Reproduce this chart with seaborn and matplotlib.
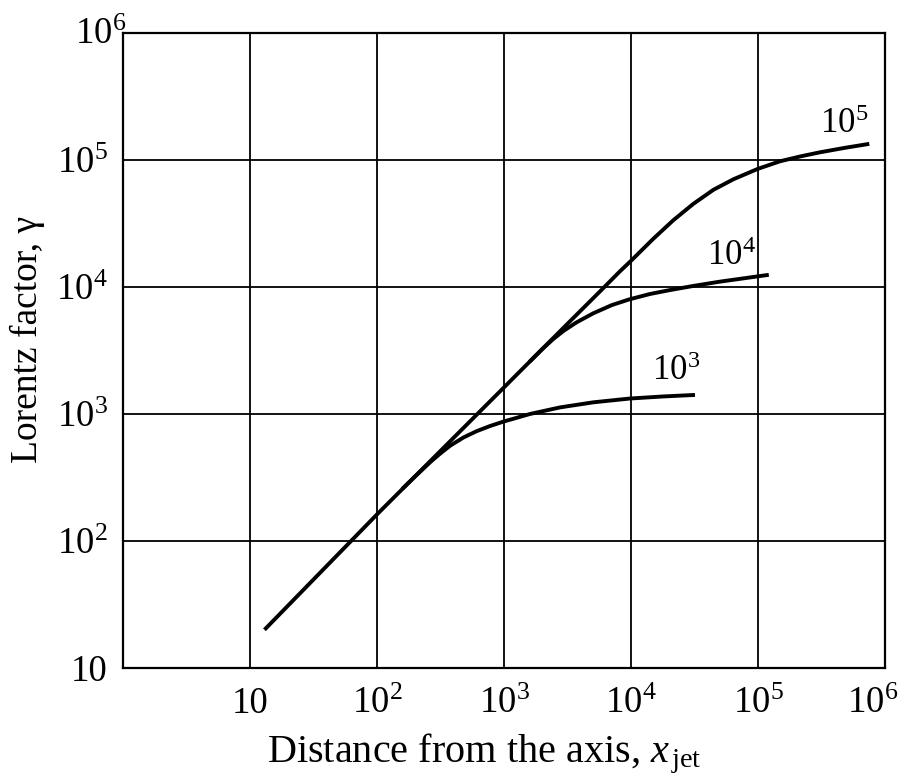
import numpy as np
import pandas as pd
import matplotlib
matplotlib.use('Agg')
import matplotlib.pyplot as plt
import matplotlib.transforms as mtransforms
import seaborn as sns

# values (distance x_jet, Lorentz factor gamma)
dist_1e5 = [13, 100, 1000, 3160, 5700, 8190, 9950, 15000, 21500, 31000,
            44500, 64000, 99500, 149000, 218000, 308000, 479000, 752000]
gam_1e5 = [20, 162, 1620, 5130, 9230, 13300, 16000, 24000, 33500, 45200,
           58200, 70500, 85100, 97700, 107000, 115000, 124500, 134000]

dist_1e4 = [1585, 2000, 2440, 2950, 3730, 5050, 7080, 9660, 14100, 20300,
            31600, 50200, 79400, 121600]
gam_1e4 = [2570, 3240, 3890, 4520, 5270, 6210, 7210, 7980, 8810, 9460,
           10230, 11020, 11750, 12470]

dist_1e3 = [158, 193, 229, 269, 316, 376, 479, 610, 776, 989, 1600, 2760,
            5050, 9820, 17800, 31900]
gam_1e3 = [257, 312, 367, 427, 490, 562, 653, 733, 804, 871, 1000, 1127,
           1236, 1324, 1374, 1413]

curve_names = ['1e5', '1e4', '1e3']
curve_labels = [r'$10^{5}$', r'$10^{4}$', r'$10^{3}$']
label_pos = [(307000, 163000), (39600, 14900), (14600, 1850)]

x_ticks = [10, 100, 1000, 1e4, 1e5, 1e6]
x_ticklabels = ['10', r'$10^{2}$', r'$10^{3}$', r'$10^{4}$', r'$10^{5}$', r'$10^{6}$']
y_ticks = [10, 100, 1000, 1e4, 1e5, 1e6]
y_ticklabels = ['10', r'$10^{2}$', r'$10^{3}$', r'$10^{4}$', r'$10^{5}$', r'$10^{6}$']

df = pd.concat([
    pd.DataFrame({'x': dist_1e5, 'g': gam_1e5, 'curve': '1e5'}),
    pd.DataFrame({'x': dist_1e4, 'g': gam_1e4, 'curve': '1e4'}),
    pd.DataFrame({'x': dist_1e3, 'g': gam_1e3, 'curve': '1e3'}),
])

sns.set_theme(style='white')
plt.rcParams['font.family'] = ['Liberation Serif', 'DejaVu Serif']
plt.rcParams['mathtext.fontset'] = 'custom'
plt.rcParams['mathtext.rm'] = 'Liberation Serif'
plt.rcParams['mathtext.it'] = 'Liberation Serif:italic'

fig = plt.figure(figsize=(8.98, 7.83), dpi=100)
ax = fig.add_axes([123/898, 1-668/783, 762/898, 635/783])

sns.lineplot(data=df, x='x', y='g', hue='curve', hue_order=curve_names,
             palette=['black']*3, estimator=None, sort=False,
             linewidth=2.8, legend=False, ax=ax)
for ln in ax.get_lines():
    ln.set_solid_capstyle('butt')
    ln.set_solid_joinstyle('round')

ax.set_xscale('log')
ax.set_yscale('log')
ax.set_xlim(1, 1e6)
ax.set_ylim(10, 1e6)
ax.set_xticks(x_ticks)
ax.set_xticklabels(x_ticklabels)
ax.set_yticks(y_ticks)
ax.set_yticklabels(y_ticklabels)
ax.minorticks_off()
ax.tick_params(axis='both', length=0, labelsize=26.5, colors='black')
ax.tick_params(axis='x', pad=13)
ax.tick_params(axis='y', pad=11)
ax.grid(True, which='major', color='black', linewidth=1.3)
for s in ax.spines.values():
    s.set_color('black')
    s.set_linewidth(1.6)

# nudge the corner labels like in the original
lx6 = ax.get_xticklabels()[-1]
lx6.set_transform(lx6.get_transform() + mtransforms.ScaledTranslation(-0.12, 0, fig.dpi_scale_trans))
ly6 = ax.get_yticklabels()[-1]
ly6.set_transform(ly6.get_transform() + mtransforms.ScaledTranslation(0.18, 0.02, fig.dpi_scale_trans))

for txt, (lx, ly) in zip(curve_labels, label_pos):
    ax.text(lx, ly, txt, fontsize=25, ha='left', va='baseline', color='black')

ax.set_xlabel(r'Distance from the axis, $x_{\,\mathrm{jet}}$', fontsize=29, color='black')
ax.set_ylabel('Lorentz factor, γ', fontsize=27, color='black')
ax.xaxis.set_label_coords(0.474, -0.1)
ax.yaxis.set_label_coords(-0.102, 0.517)

fig.savefig('out.png', dpi=100)
